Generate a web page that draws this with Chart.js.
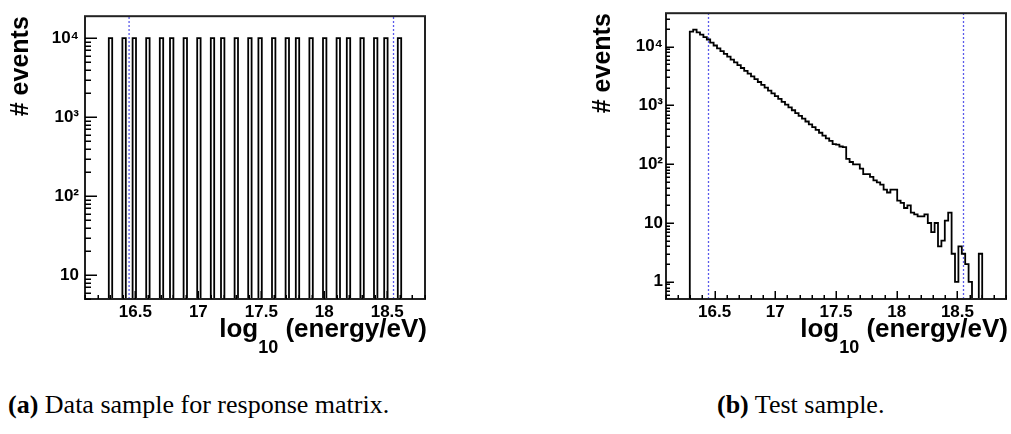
<!DOCTYPE html>
<html>
<head>
<meta charset="utf-8">
<script src="https://cdn.jsdelivr.net/npm/chart.js@4.4.1/dist/chart.umd.min.js"></script>
<style>
  body { margin: 0; background: #fff; width: 1011px; height: 434px; position: relative; overflow: hidden; }
  .panel { position: absolute; top: 0; height: 360px; }
  #panelA { left: 0; width: 500px; }
  #panelB { left: 505px; width: 506px; }
  .ticks { position: absolute; left: 0; top: 0; pointer-events: none; z-index: 2; }
  .caption { position: absolute; top: 390px; font-family: "Liberation Serif", serif; font-size: 26px; color: #000; white-space: nowrap; }
</style>
</head>
<body>
<div class="panel" id="panelA"><canvas id="chartA"></canvas><canvas class="ticks" id="ticksA" width="500" height="360"></canvas></div>
<div class="panel" id="panelB"><canvas id="chartB"></canvas><canvas class="ticks" id="ticksB" width="506" height="360"></canvas></div>
<div class="caption" style="left:8px"><b>(a)</b> Data sample for response matrix.</div>
<div class="caption" style="left:717px"><b>(b)</b> Test sample.</div>
<script>
// histogram (a): 100 bins between 16.1 and 18.8
var binsA = [16.1, 18.8];
var countsA = [
  0, 0, 0, 0, 0, 0, 0, 1e4, 0, 0,
  0, 1e4, 0, 0, 1e4, 0, 0, 0, 1e4, 0,
  0, 0, 1e4, 0, 0, 1e4, 0, 0, 0, 1e4,
  0, 0, 0, 1e4, 0, 0, 0, 1e4, 0, 0,
  1e4, 0, 0, 0, 1e4, 0, 0, 0, 1e4, 0,
  0, 1e4, 0, 0, 0, 1e4, 0, 0, 0, 1e4,
  0, 0, 1e4, 0, 0, 0, 1e4, 0, 0, 0,
  1e4, 0, 0, 0, 1e4, 0, 0, 1e4, 0, 0,
  0, 1e4, 0, 0, 0, 1e4, 0, 0, 1e4, 0,
  0, 0, 1e4, 0, 0, 0, 0, 0, 0, 0
];

// histogram (b): 100 bins between 16.1 and 18.9
var binsB = [16.1, 18.9];
var countsB = [
  0, 0, 0, 0, 0, 0, 0, 18000, 19500, 17500,
  16000, 14500, 13200, 11700, 10450, 9360, 8380, 7510, 6730, 6030,
  5400, 4830, 4330, 3880, 3470, 3110, 2790, 2500, 2230, 2000,
  1790, 1600, 1440, 1290, 1150, 1030, 925, 828, 741, 664,
  595, 533, 477, 427, 383, 343, 307, 275, 250, 220,
  215, 200, 195, 123, 109, 99, 99, 84, 68, 68,
  61, 53, 49, 45, 37, 33, 37, 37, 24, 22,
  18, 20, 15, 14, 13, 13, 14, 10, 7, 10,
  4, 5, 11, 15, 3, 1, 4, 3, 2, 1,
  0, 0, 3, 0, 0, 0, 0, 0, 0, 0
];

// fit range markers (dashed lines)
var cutLines = [16.45, 18.55];
var xTickLabels = [16.5, 17, 17.5, 18, 18.5];
var yDecades = [1, 10, 100, 1000, 10000];
var yRangeA = [5, 19000];
var yRangeB = [0.51, 37000];

var supers = { 1: '1', 10: '10', 100: '10\u00B2', 1000: '10\u00B3', 10000: '10\u2074' };
var FONT = "'Liberation Sans', Arial, sans-serif";

// turn bin contents into a step outline (zero bins drop below the frame)
function stepPoints(range, counts, floor) {
  var w = (range[1] - range[0]) / counts.length;
  var pts = [{x: range[0], y: floor}];
  counts.forEach(function(c, i) {
    var v = c > 0 ? c : floor;
    pts.push({x: range[0] + i * w, y: v});
    pts.push({x: range[0] + (i + 1) * w, y: v});
  });
  pts.push({x: range[1], y: floor});
  return pts;
}

// ROOT style frame: box and x title on the chart, inward ticks on a top layer
function rootAxes(t) {
  return {
    id: 'rootAxes',
    afterDraw: function(chart) {
      var ctx = chart.ctx, a = chart.chartArea;
      var xs = chart.scales.x, ys = chart.scales.y;

      var tc = document.getElementById(t.layer).getContext('2d');
      tc.clearRect(0, 0, tc.canvas.width, tc.canvas.height);
      tc.fillStyle = '#000';
      for (var i = Math.round(t.xRange[0] * 10); i <= Math.round(t.xRange[1] * 10); i++) {
        var px = Math.round(xs.getPixelForValue(i / 10));
        var len = (i % 5 === 0) ? t.xMajor : t.xMinor;
        tc.fillRect(px - 0.5, a.bottom - len, 1.5, len);
      }
      for (var d = Math.floor(Math.log10(t.yRange[0])); d <= Math.log10(t.yRange[1]); d++) {
        for (var m = 1; m < 10; m++) {
          var v = m * Math.pow(10, d);
          if (v < t.yRange[0] || v > t.yRange[1]) continue;
          var py = Math.round(ys.getPixelForValue(v));
          tc.fillRect(a.left, py - 0.5, (m === 1) ? t.yMajor : t.yMinor, 1.5);
        }
      }

      ctx.save();
      ctx.lineWidth = 2;
      ctx.strokeStyle = '#222';
      ctx.strokeRect(a.left, a.top, a.right - a.left, a.bottom - a.top);

      // x title: log_10 (energy/eV)
      ctx.fillStyle = '#000';
      ctx.textBaseline = 'alphabetic';
      ctx.textAlign = 'left';
      var big = 'bold 26px ' + FONT, small = 'bold 18px ' + FONT;
      ctx.font = big;
      var w1 = ctx.measureText('log').width;
      var w3 = ctx.measureText(' (energy/eV)').width;
      ctx.font = small;
      var w2 = ctx.measureText('10').width;
      var x0 = a.right + 2 - (w1 + w2 + w3);
      ctx.font = big;
      ctx.fillText('log', x0, t.titleBase);
      ctx.fillText(' (energy/eV)', x0 + w1 + w2, t.titleBase);
      ctx.font = small;
      ctx.fillText('10', x0 + w1, t.titleBase + 16);
      ctx.restore();
    }
  };
}

function makeChart(id, range, counts, yRange, lay) {
  var datasets = [{
    data: stepPoints(range, counts, yRange[0] / 100),
    borderColor: '#000',
    borderWidth: 1.8,
    pointRadius: 0,
    fill: false,
    tension: 0,
    clip: 0
  }];
  cutLines.forEach(function(c) {
    datasets.push({
      data: [{x: c, y: yRange[0]}, {x: c, y: yRange[1]}],
      borderColor: 'rgb(90,90,235)',
      borderWidth: 1.3,
      borderDash: [2, 2],
      pointRadius: 0,
      fill: false,
      clip: 0
    });
  });
  lay.ticks.xRange = range;
  lay.ticks.yRange = yRange;

  return new Chart(document.getElementById(id), {
    type: 'line',
    data: { datasets: datasets },
    plugins: [rootAxes(lay.ticks)],
    options: {
      responsive: true,
      maintainAspectRatio: false,
      animation: false,
      layout: { padding: lay.padding },
      plugins: {
        legend: { display: false },
        tooltip: { enabled: false }
      },
      scales: {
        x: {
          type: 'linear',
          min: range[0],
          max: range[1],
          grid: { display: false, drawTicks: false },
          border: { display: false },
          afterFit: function(s) { s.height = lay.xHeight; },
          afterBuildTicks: function(s) {
            s.ticks = xTickLabels.map(function(v) { return {value: v}; });
          },
          ticks: {
            padding: 3,
            color: '#000',
            font: { family: FONT, weight: 'bold', size: 17 },
            callback: function(v) { return String(v); }
          }
        },
        y: {
          type: 'logarithmic',
          min: yRange[0],
          max: yRange[1],
          grid: { display: false, drawTicks: false },
          border: { display: false },
          afterFit: function(s) { s.width = lay.yWidth; },
          afterBuildTicks: function(s) {
            s.ticks = yDecades.filter(function(v) {
              return v >= yRange[0] && v <= yRange[1];
            }).map(function(v) { return {value: v}; });
          },
          ticks: {
            padding: lay.yPad,
            color: '#000',
            font: { family: FONT, weight: 'bold', size: 17 },
            callback: function(v) { return supers[v]; }
          },
          title: {
            display: true,
            text: '# events',
            align: 'end',
            color: '#000',
            padding: 0,
            font: { family: FONT, weight: 'bold', size: 25, lineHeight: 1 }
          }
        }
      }
    }
  });
}

makeChart('chartA', binsA, countsA, yRangeA, {
  padding: { left: 8.5, top: 6, right: 75, bottom: 0 },
  yWidth: 76.5, xHeight: 61, yPad: 6,
  ticks: { layer: 'ticksA', xMajor: 8, xMinor: 4, yMajor: 12, yMinor: 6, titleBase: 337 }
});

makeChart('chartB', binsB, countsB, yRangeB, {
  padding: { left: 85.5, top: 5, right: 5, bottom: 0 },
  yWidth: 75.5, xHeight: 61, yPad: 3,
  ticks: { layer: 'ticksB', xMajor: 8, xMinor: 4, yMajor: 8, yMinor: 4, titleBase: 337 }
});
</script>
</body>
</html>
